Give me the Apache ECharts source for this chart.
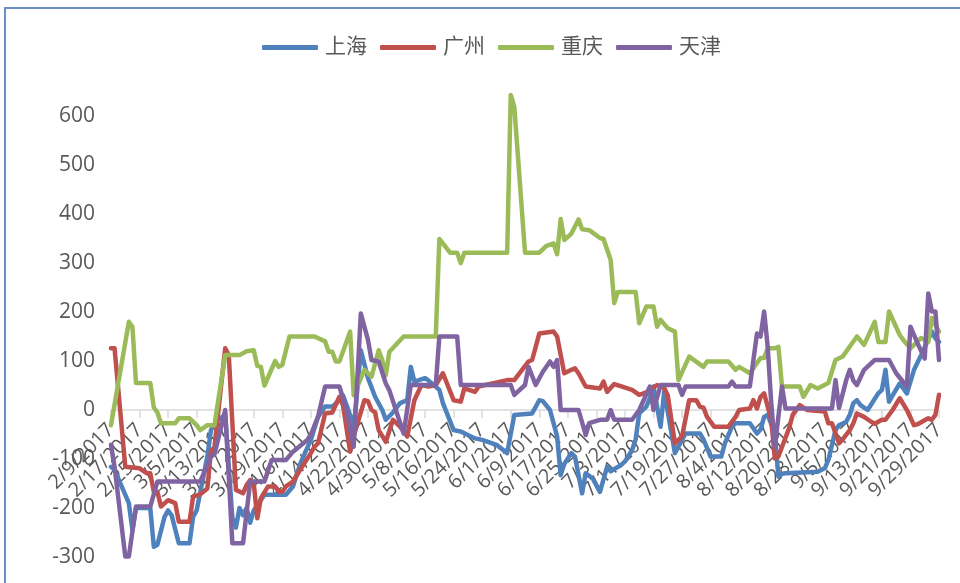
<!DOCTYPE html>
<html>
<head>
<meta charset="utf-8">
<script src="https://cdn.jsdelivr.net/npm/echarts@6/dist/echarts.min.js"></script>
<style>
html,body{margin:0;padding:0;background:#fff;}
#chart{width:960px;height:583px;}
</style>
</head>
<body>
<div id="chart"></div>
<script>
// Category axis: consecutive days starting 2/9/2017 (233 days, to 9/29/2017)
var startDate = [2017, 1, 9];
var dayCount = 233;
var categories = [];
for (var i = 0; i < dayCount; i++) {
  var dt = new Date(startDate[0], startDate[1], startDate[2] + i);
  categories.push((dt.getMonth() + 1) + '/' + dt.getDate() + '/' + dt.getFullYear());
}
var seriesNames = ['上海', '广州', '重庆', '天津'];

// 上海 (vertices: day index since 2/9/2017, value)
var shDays = [0,1,5,6,7,11,12,13,15,16,17,19,22,23,24,27,28,30,32,34,35,36,37,38,39,40,43,49,51,53,56,58,60,62,64,65,67,68,70,72,74,76,77,79,81,83,84,85,88,89,92,93,96,98,102,104,108,111,113,118,120,121,123,125,126,127,129,130,132,133,135,137,139,140,143,144,146,147,148,150,151,152,154,155,158,160,161,165,166,168,171,172,174,175,179,181,182,183,184,186,187,188,189,198,200,201,203,204,206,207,208,209,210,212,215,216,217,218,219,221,223,225,227,230,231,232];
var shVals = [-116,-122,-190,-245,-200,-200,-279,-275,-218,-205,-215,-272,-272,-218,-205,-95,-41,-20,-10,-220,-240,-200,-215,-200,-230,-205,-173,-173,-156,-110,-61,-14,7,7,20,30,-10,-40,122,65,27,0,-20,-5,14,20,88,58,65,60,41,14,-41,-44,-58,-61,-71,-88,-10,-7,20,18,0,-54,-133,-110,-88,-95,-170,-129,-140,-167,-116,-125,-112,-105,-82,-60,-7,7,25,48,-34,38,-88,-61,-48,-48,-60,-95,-95,-68,-34,-27,-27,-48,-40,-14,-10,-48,-136,-130,-129,-126,-119,-102,-41,-31,-24,-10,14,20,10,0,34,41,82,17,30,54,34,82,112,160,146,139];

// 广州
var gzDays = [0,1,4,8,10,11,12,13,14,16,18,19,22,23,25,27,28,29,32,33,35,37,38,39,40,41,42,44,46,47,48,49,51,53,56,57,58,60,62,64,65,67,68,71,72,73,74,75,77,79,81,83,85,87,89,91,93,96,98,99,102,103,111,113,117,118,120,124,125,127,129,130,131,133,137,138,139,141,143,146,148,150,153,155,156,158,160,162,164,165,166,167,169,173,175,176,179,180,181,182,183,185,186,187,190,191,193,195,200,201,202,204,205,207,208,209,211,213,214,216,217,219,221,223,225,226,227,229,230,231,232];
var gzVals = [126,126,-116,-119,-129,-129,-167,-167,-197,-184,-190,-228,-228,-177,-172,-160,-85,-75,126,112,-163,-170,-153,-143,-150,-221,-180,-156,-156,-167,-167,-156,-146,-122,-88,-75,-68,-7,-5,27,10,-85,-54,20,18,0,-5,-41,-65,-20,-34,-54,20,51,48,51,75,20,17,44,37,48,61,61,99,102,156,160,150,75,82,85,75,48,44,58,37,53,48,41,31,36,51,45,30,-68,-54,20,20,7,5,-14,-34,-34,-14,0,3,20,3,27,34,-20,-99,-95,-37,-10,10,0,-3,-27,-27,-68,-60,-41,-27,-7,-14,-24,-28,-20,-20,0,24,0,-31,-29,-25,-17,-20,-10,31];

// 重庆
var cqDays = [0,5,6,7,11,12,13,14,18,19,22,24,25,27,29,32,36,38,40,41,42,43,46,47,48,50,57,60,61,62,63,64,67,68,71,73,75,76,77,78,82,91,92,95,97,98,99,111,112,113,116,120,122,124,125,126,127,129,131,132,134,137,138,140,141,142,147,148,150,152,153,154,156,158,159,162,166,167,173,175,176,179,182,183,184,186,187,188,193,194,196,198,201,203,205,209,211,214,215,217,218,221,222,224,227,229,230,232];
var cqVals = [-31,180,170,55,55,5,-5,-27,-27,-17,-17,-31,-41,-31,-31,112,112,120,122,90,88,50,100,88,92,150,150,140,119,119,99,99,160,30,82,68,122,102,71,119,150,150,349,321,321,300,321,321,643,619,321,321,335,340,318,390,347,360,389,369,367,351,349,306,218,241,241,177,211,211,170,184,167,160,61,109,88,99,99,82,88,75,106,106,126,126,129,48,48,27,51,44,55,102,109,150,133,180,139,139,201,153,143,126,147,139,188,160];

// 天津
var tjDays = [0,1,4,5,7,11,13,25,28,29,32,34,37,39,43,45,49,51,55,56,58,60,64,66,68,70,72,73,75,77,78,82,84,91,92,97,98,112,113,116,117,119,121,123,124,125,126,131,133,134,137,139,140,141,146,148,151,152,154,159,160,161,173,174,175,179,181,182,183,184,185,186,188,189,202,203,204,206,207,208,209,211,214,218,220,223,224,226,228,229,230,231,232];
var tjVals = [-71,-116,-299,-299,-197,-197,-146,-146,-95,-90,0,-272,-272,-146,-146,-102,-102,-85,-61,-50,-14,48,48,0,-75,197,143,102,99,54,40,-48,51,51,150,150,51,51,31,51,88,51,78,99,88,102,0,0,-51,-27,-20,-20,0,-20,-20,0,48,0,51,51,31,48,48,58,48,48,156,150,201,129,14,-75,48,3,3,61,4,61,82,60,51,82,102,102,75,48,170,136,105,238,201,201,102];

var colors = ['#4F81BD', '#C0504D', '#9BBB59', '#8064A2'];
var dayLists = [shDays, gzDays, cqDays, tjDays];
var valLists = [shVals, gzVals, cqVals, tjVals];

function pairs(days, vals) {
  var out = [];
  for (var k = 0; k < days.length; k++) out.push([categories[days[k]], vals[k]]);
  return out;
}

var font = '"Open Sans", "Noto Sans CJK SC", sans-serif';
var series = seriesNames.map(function (name, idx) {
  return {
    name: name,
    type: 'line',
    data: pairs(dayLists[idx], valLists[idx]),
    showSymbol: false,
    symbol: 'none',
    lineStyle: { width: 4.5, color: colors[idx], cap: 'round', join: 'round' },
    itemStyle: { color: colors[idx] },
    animation: false
  };
});

// y range and grid (plot from y=67 to y=557, zero at y=410)
var yMin = -300, yMax = 700;
var gridTop = 67, gridBottom = 26, chartH = 583;
var plotH = chartH - gridTop - gridBottom;
var zeroOffset = -plotH * (0 - yMin) / (yMax - yMin);

var chart = echarts.init(document.getElementById('chart'), null, { renderer: 'canvas' });
chart.setOption({
  backgroundColor: '#ffffff',
  animation: false,
  graphic: [{
    type: 'rect',
    shape: { x: 5, y: 8, width: 1000, height: 1000 },
    style: { fill: 'none', stroke: '#6A8FC4', lineWidth: 2 },
    silent: true
  }],
  legend: {
    data: seriesNames,
    left: 257,
    top: 32,
    icon: 'roundRect',
    itemWidth: 56,
    itemHeight: 5,
    itemGap: 13,
    textStyle: { fontSize: 21, color: '#595959', fontFamily: font, padding: [0, 0, 0, 2] }
  },
  grid: { left: 111, right: 21, top: gridTop, bottom: gridBottom, containLabel: false, outerBoundsMode: 'none' },
  xAxis: {
    type: 'category',
    data: categories,
    boundaryGap: false,
    offset: zeroOffset,
    axisLine: { onZero: false, lineStyle: { color: '#D9D9D9', width: 1.5 } },
    axisTick: { show: true, interval: 7, length: 8, lineStyle: { color: '#D9D9D9', width: 1.5 } },
    axisLabel: {
      interval: 7,
      rotate: 45,
      margin: 17,
      fontSize: 20,
      color: '#595959',
      fontFamily: font
    },
    splitLine: { show: false }
  },
  yAxis: {
    type: 'value',
    min: yMin,
    max: yMax,
    interval: 100,
    axisLine: { show: false },
    axisTick: { show: false },
    splitLine: { show: false },
    axisLabel: {
      margin: 16,
      fontSize: 21,
      color: '#595959',
      fontFamily: font,
      formatter: function (v) { return v > 600 ? '' : String(v); }
    }
  },
  series: series
});
</script>
</body>
</html>
